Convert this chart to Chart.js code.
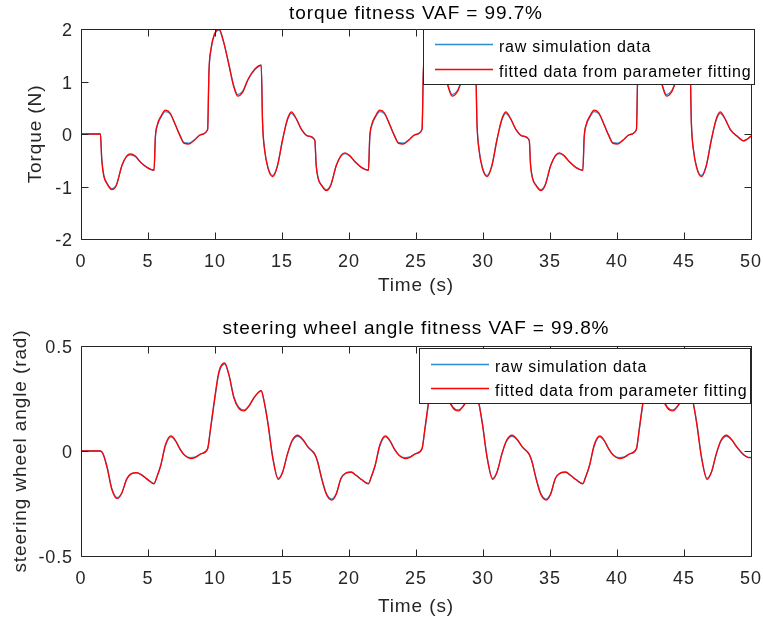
<!DOCTYPE html>
<html>
<head>
<meta charset="utf-8">
<script src="https://cdn.jsdelivr.net/npm/chart.js@4.4.1/dist/chart.umd.min.js"></script>
<style>
  html, body { margin: 0; padding: 0; background: #fff; }
  #wrap { position: relative; width: 763px; height: 622px; }
  canvas { position: absolute; left: 0; }
  #torqueChart { top: 0; }
  #angleChart { top: 311px; }
</style>
</head>
<body>
<div id="wrap">
  <canvas id="torqueChart" width="763" height="311"></canvas>
  <canvas id="angleChart" width="763" height="311"></canvas>
</div>
<script>
// Data
const seriesNames = ['raw simulation data', 'fitted data from parameter fitting'];

const torqueTime = [0,
  1.45, 1.55, 1.7, 1.95, 2.3, 2.65, 3.05, 3.4, 3.7, 4.05, 4.45, 4.95,
  5.45, 5.55, 5.7, 5.95, 6.3, 6.65, 7.05, 7.4, 7.7, 8.05, 8.45, 8.95,
  9.45, 9.55, 9.7, 9.95, 10.3, 10.65, 11.05, 11.4, 11.7, 12.05, 12.45, 12.95,
  13.45, 13.55, 13.7, 13.95, 14.3, 14.65, 15.05, 15.4, 15.7, 16.05, 16.45, 16.95,
  17.45, 17.55, 17.7, 17.95, 18.3, 18.65, 19.05, 19.4, 19.7, 20.05, 20.45, 20.95,
  21.45, 21.55, 21.7, 21.95, 22.3, 22.65, 23.05, 23.4, 23.7, 24.05, 24.45, 24.95,
  25.45, 25.55, 25.7, 25.95, 26.3, 26.65, 27.05, 27.4, 27.7, 28.05, 28.45, 28.95,
  29.45, 29.55, 29.7, 29.95, 30.3, 30.65, 31.05, 31.4, 31.7, 32.05, 32.45, 32.95,
  33.45, 33.55, 33.7, 33.95, 34.3, 34.65, 35.05, 35.4, 35.7, 36.05, 36.45, 36.95,
  37.45, 37.55, 37.7, 37.95, 38.3, 38.65, 39.05, 39.4, 39.7, 40.05, 40.45, 40.95,
  41.45, 41.55, 41.7, 41.95, 42.3, 42.65, 43.05, 43.4, 43.7, 44.05, 44.45, 44.95,
  45.45, 45.55, 45.7, 45.95, 46.3, 46.65, 47.05, 47.4, 47.7, 48.05, 48.45, 48.95,
  49.45, 49.7, 50];

const torqueRaw = [0,
  0, -0.47, -0.78, -0.94, -1.04, -0.96, -0.61, -0.43, -0.395, -0.43, -0.54, -0.64,
  -0.69, -0.08, 0.16, 0.31, 0.425, 0.385, 0.17, -0.03, -0.165, -0.175, -0.115, -0.01,
  0.085, 1.17, 1.6, 1.88, 1.98, 1.74, 1.31, 0.92, 0.75, 0.81, 1.03, 1.22,
  1.31, 0.23, -0.28, -0.63, -0.79, -0.61, -0.1, 0.26, 0.395, 0.29, 0.09, -0.04,
  -0.12, -0.58, -0.84, -0.97, -1.06, -0.96, -0.6, -0.42, -0.375, -0.42, -0.53, -0.64,
  -0.69, -0.08, 0.16, 0.31, 0.425, 0.385, 0.17, -0.03, -0.165, -0.175, -0.115, -0.01,
  0.085, 1.17, 1.6, 1.88, 1.98, 1.74, 1.31, 0.92, 0.75, 0.81, 1.03, 1.22,
  1.31, 0.23, -0.28, -0.63, -0.79, -0.61, -0.1, 0.26, 0.395, 0.29, 0.09, -0.04,
  -0.12, -0.58, -0.84, -0.97, -1.06, -0.96, -0.6, -0.42, -0.375, -0.42, -0.53, -0.64,
  -0.69, -0.08, 0.16, 0.31, 0.425, 0.385, 0.17, -0.03, -0.165, -0.175, -0.115, -0.01,
  0.085, 1.17, 1.6, 1.88, 1.98, 1.74, 1.31, 0.92, 0.75, 0.81, 1.03, 1.22,
  1.31, 0.23, -0.28, -0.63, -0.79, -0.61, -0.1, 0.26, 0.395, 0.29, 0.09, -0.04,
  -0.13, -0.1, -0.04];

const torqueFit = [0,
  0, -0.5, -0.8, -0.95, -1.06, -0.97, -0.6, -0.42, -0.38, -0.42, -0.54, -0.64,
  -0.69, -0.05, 0.18, 0.33, 0.455, 0.4, 0.17, -0.04, -0.18, -0.19, -0.12, -0.01,
  0.085, 1.2, 1.62, 1.9, 2.0, 1.75, 1.3, 0.9, 0.72, 0.79, 1.03, 1.23,
  1.31, 0.2, -0.3, -0.65, -0.81, -0.62, -0.1, 0.28, 0.42, 0.3, 0.09, -0.04,
  -0.12, -0.6, -0.85, -0.98, -1.08, -0.97, -0.6, -0.41, -0.36, -0.41, -0.53, -0.64,
  -0.69, -0.05, 0.18, 0.33, 0.455, 0.4, 0.17, -0.04, -0.18, -0.19, -0.12, -0.01,
  0.085, 1.2, 1.62, 1.9, 2.0, 1.75, 1.3, 0.9, 0.72, 0.79, 1.03, 1.23,
  1.31, 0.2, -0.3, -0.65, -0.81, -0.62, -0.1, 0.28, 0.42, 0.3, 0.09, -0.04,
  -0.12, -0.6, -0.85, -0.98, -1.08, -0.97, -0.6, -0.41, -0.36, -0.41, -0.53, -0.64,
  -0.69, -0.05, 0.18, 0.33, 0.455, 0.4, 0.17, -0.04, -0.18, -0.19, -0.12, -0.01,
  0.085, 1.2, 1.62, 1.9, 2.0, 1.75, 1.3, 0.9, 0.72, 0.79, 1.03, 1.23,
  1.31, 0.2, -0.3, -0.65, -0.81, -0.62, -0.1, 0.28, 0.42, 0.3, 0.09, -0.04,
  -0.13, -0.1, -0.04];

const angleTime = [0,
  1.45, 1.65, 1.95, 2.3, 2.72, 3.05, 3.4, 3.75, 4.17, 4.55, 4.95,
  5.45, 5.65, 5.95, 6.3, 6.72, 7.05, 7.4, 7.75, 8.17, 8.55, 8.95,
  9.45, 9.65, 9.95, 10.3, 10.72, 11.05, 11.4, 11.75, 12.17, 12.55, 12.95,
  13.45, 13.65, 13.95, 14.3, 14.72, 15.05, 15.4, 15.75, 16.17, 16.55, 16.95,
  17.45, 17.65, 17.95, 18.3, 18.72, 19.05, 19.4, 19.75, 20.17, 20.55, 20.95,
  21.45, 21.65, 21.95, 22.3, 22.72, 23.05, 23.4, 23.75, 24.17, 24.55, 24.95,
  25.45, 25.65, 25.95, 26.3, 26.72, 27.05, 27.4, 27.75, 28.17, 28.55, 28.95,
  29.45, 29.65, 29.95, 30.3, 30.72, 31.05, 31.4, 31.75, 32.17, 32.55, 32.95,
  33.45, 33.65, 33.95, 34.3, 34.72, 35.05, 35.4, 35.75, 36.17, 36.55, 36.95,
  37.45, 37.65, 37.95, 38.3, 38.72, 39.05, 39.4, 39.75, 40.17, 40.55, 40.95,
  41.45, 41.65, 41.95, 42.3, 42.72, 43.05, 43.4, 43.75, 44.17, 44.55, 44.95,
  45.45, 45.65, 45.95, 46.3, 46.72, 47.05, 47.4, 47.75, 48.17, 48.55, 48.95,
  49.45, 49.75, 50];

const angleRaw = [0,
  0, -0.013, -0.075, -0.178, -0.222, -0.199, -0.136, -0.109, -0.104, -0.115, -0.134,
  -0.155, -0.126, -0.071, 0.024, 0.067, 0.048, 0.008, -0.02, -0.032, -0.028, -0.013,
  0.011, 0.095, 0.232, 0.372, 0.414, 0.36, 0.26, 0.21, 0.196, 0.217, 0.257,
  0.286, 0.242, 0.135, -0.024, -0.13, -0.1, -0.018, 0.045, 0.07, 0.053, 0.018,
  -0.016, -0.048, -0.126, -0.2, -0.229, -0.203, -0.132, -0.107, -0.102, -0.117, -0.136,
  -0.155, -0.126, -0.071, 0.024, 0.067, 0.048, 0.008, -0.02, -0.032, -0.028, -0.013,
  0.011, 0.095, 0.232, 0.372, 0.414, 0.36, 0.26, 0.21, 0.196, 0.217, 0.257,
  0.286, 0.242, 0.135, -0.024, -0.13, -0.1, -0.018, 0.045, 0.07, 0.053, 0.018,
  -0.016, -0.048, -0.126, -0.2, -0.229, -0.203, -0.132, -0.107, -0.102, -0.117, -0.136,
  -0.155, -0.126, -0.071, 0.024, 0.067, 0.048, 0.008, -0.02, -0.032, -0.028, -0.013,
  0.011, 0.095, 0.232, 0.372, 0.414, 0.36, 0.26, 0.21, 0.196, 0.217, 0.257,
  0.286, 0.242, 0.135, -0.024, -0.13, -0.1, -0.018, 0.045, 0.07, 0.053, 0.018,
  -0.018, -0.029, -0.031];

const angleFit = [0,
  0, -0.015, -0.08, -0.183, -0.226, -0.2, -0.135, -0.108, -0.103, -0.115, -0.135,
  -0.156, -0.125, -0.068, 0.03, 0.072, 0.05, 0.008, -0.022, -0.036, -0.03, -0.014,
  0.011, 0.1, 0.24, 0.38, 0.419, 0.36, 0.255, 0.205, 0.191, 0.215, 0.258,
  0.287, 0.24, 0.13, -0.03, -0.135, -0.1, -0.015, 0.05, 0.075, 0.055, 0.018,
  -0.016, -0.05, -0.13, -0.205, -0.234, -0.205, -0.13, -0.105, -0.1, -0.117, -0.137,
  -0.156, -0.125, -0.068, 0.03, 0.072, 0.05, 0.008, -0.022, -0.036, -0.03, -0.014,
  0.011, 0.1, 0.24, 0.38, 0.419, 0.36, 0.255, 0.205, 0.191, 0.215, 0.258,
  0.287, 0.24, 0.13, -0.03, -0.135, -0.1, -0.015, 0.05, 0.075, 0.055, 0.018,
  -0.016, -0.05, -0.13, -0.205, -0.234, -0.205, -0.13, -0.105, -0.1, -0.117, -0.137,
  -0.156, -0.125, -0.068, 0.03, 0.072, 0.05, 0.008, -0.022, -0.036, -0.03, -0.014,
  0.011, 0.1, 0.24, 0.38, 0.419, 0.36, 0.255, 0.205, 0.191, 0.215, 0.258,
  0.287, 0.24, 0.13, -0.03, -0.135, -0.1, -0.015, 0.05, 0.075, 0.055, 0.018,
  -0.018, -0.03, -0.032];

const timeTicks = [0, 5, 10, 15, 20, 25, 30, 35, 40, 45, 50];
const torqueTicks = [-2, -1, 0, 1, 2];
const angleTicks = [-0.5, 0, 0.5];

const FONT = '"Liberation Sans", Arial, Helvetica, sans-serif';
const AXIS_COLOR = '#262626';
Chart.defaults.font.family = FONT;
Chart.defaults.color = AXIS_COLOR;

// MATLAB-like box: frame, inward ticks on all four sides, legend inside the axes
const matlabAxes = {
  id: 'matlabAxes',
  beforeDraw(chart) {
    chart.ctx.letterSpacing = '0.9px';
  },
  afterDraw(chart, args, o) {
    const ctx = chart.ctx;
    const a = chart.chartArea;
    const xs = chart.scales.x, ys = chart.scales.y;
    const L = a.left + 0.5, R = a.right + 0.5, T = a.top + 0.5, B = a.bottom + 0.5;
    ctx.save();
    ctx.strokeStyle = AXIS_COLOR;
    ctx.lineWidth = 1;
    ctx.beginPath();
    ctx.rect(L, T, R - L, B - T);
    xs.ticks.forEach(t => {
      const px = Math.round(xs.getPixelForValue(t.value)) + 0.5;
      ctx.moveTo(px, B); ctx.lineTo(px, B - 7);
      ctx.moveTo(px, T); ctx.lineTo(px, T + 7);
    });
    ys.ticks.forEach(t => {
      const py = Math.round(ys.getPixelForValue(t.value)) + 0.5;
      ctx.moveTo(L, py); ctx.lineTo(L + 7, py);
      ctx.moveTo(R, py); ctx.lineTo(R - 7, py);
    });
    ctx.stroke();

    // legend
    ctx.fillStyle = '#ffffff';
    ctx.fillRect(o.left, o.top, o.width, o.height);
    ctx.strokeStyle = AXIS_COLOR;
    ctx.strokeRect(o.left + 0.5, o.top + 0.5, o.width, o.height);
    ctx.font = '16px ' + FONT;
    ctx.letterSpacing = '0.75px';
    ctx.textAlign = 'left';
    ctx.textBaseline = 'alphabetic';
    chart.data.datasets.forEach((ds, i) => {
      const y = o.top + o.rows[i] + 0.5;
      ctx.strokeStyle = ds.borderColor;
      ctx.lineWidth = ds.borderWidth;
      ctx.beginPath();
      ctx.moveTo(o.left + 12, y);
      ctx.lineTo(o.left + 70, y);
      ctx.stroke();
      ctx.fillStyle = '#000000';
      ctx.fillText(ds.label, o.left + 76, y + 7);
    });
    ctx.restore();
  }
};

function makeChart(canvasId, cfg) {
  const ctx = document.getElementById(canvasId).getContext('2d');
  return new Chart(ctx, {
    type: 'line',
    data: {
      datasets: [
        {
          label: seriesNames[0],
          data: cfg.time.map((t, i) => ({ x: t, y: cfg.raw[i] })),
          borderColor: '#2E8BCF',
          borderWidth: 1.3,
          pointRadius: 0,
          cubicInterpolationMode: 'monotone',
          order: 2
        },
        {
          label: seriesNames[1],
          data: cfg.time.map((t, i) => ({ x: t, y: cfg.fit[i] })),
          borderColor: '#FF0000',
          borderWidth: 1.3,
          pointRadius: 0,
          cubicInterpolationMode: 'monotone',
          order: 1
        }
      ]
    },
    options: {
      responsive: false,
      animation: false,
      devicePixelRatio: 1,
      events: [],
      layout: { padding: { left: 0, right: 12, top: 0, bottom: 0 } },
      plugins: {
        legend: { display: false },
        tooltip: { enabled: false },
        title: {
          display: true,
          fullSize: false,
          text: cfg.title,
          color: '#000000',
          font: { size: 19, weight: 'normal' },
          padding: cfg.titlePad
        },
        matlabAxes: cfg.legend
      },
      scales: {
        x: {
          type: 'linear',
          min: 0,
          max: 50,
          afterFit: s => { s.height = cfg.xHeight; },
          afterBuildTicks: s => { s.ticks = timeTicks.map(v => ({ value: v })); },
          grid: { display: true, drawOnChartArea: false, drawTicks: true, tickLength: 12, color: 'rgba(0,0,0,0)' },
          border: { display: false },
          ticks: { padding: 0, autoSkip: false, maxRotation: 0, font: { size: 18 }, callback: v => String(v) },
          title: {
            display: true,
            text: 'Time (s)',
            font: { size: 19 },
            padding: { top: 0, bottom: cfg.xTitlePad }
          }
        },
        y: {
          min: cfg.yMin,
          max: cfg.yMax,
          afterFit: s => { s.width = 81; },
          afterBuildTicks: s => { s.ticks = cfg.yTicks.map(v => ({ value: v })); },
          grid: { display: true, drawOnChartArea: false, drawTicks: true, tickLength: 8, color: 'rgba(0,0,0,0)' },
          border: { display: false },
          ticks: { padding: 0, labelOffset: 2.5, font: { size: 18 }, callback: v => String(v) },
          title: {
            display: true,
            text: cfg.yTitle,
            font: { size: 19 },
            padding: { top: cfg.yTitlePad, bottom: 0 }
          }
        }
      }
    },
    plugins: [matlabAxes]
  });
}

const torqueChart = makeChart('torqueChart', {
  time: torqueTime, raw: torqueRaw, fit: torqueFit,
  title: 'torque fitness VAF = 99.7%',
  titlePad: { top: 2, bottom: 4.2 },
  yTitle: 'Torque (N)', yTitlePad: 24,
  yMin: -2, yMax: 2, yTicks: torqueTicks,
  xHeight: 72, xTitlePad: 13.5,
  legend: { left: 423, top: 29, width: 331, height: 55, rows: [15, 40] }
});

const angleChart = makeChart('angleChart', {
  time: angleTime, raw: angleRaw, fit: angleFit,
  title: 'steering wheel angle fitness VAF = 99.8%',
  titlePad: { top: 6.5, bottom: 5.7 },
  yTitle: 'steering wheel angle (rad)', yTitlePad: 9,
  yMin: -0.5, yMax: 0.5, yTicks: angleTicks,
  xHeight: 66, xTitlePad: 4,
  legend: { left: 419, top: 37, width: 331, height: 55, rows: [16, 40] }
});
</script>
</body>
</html>
